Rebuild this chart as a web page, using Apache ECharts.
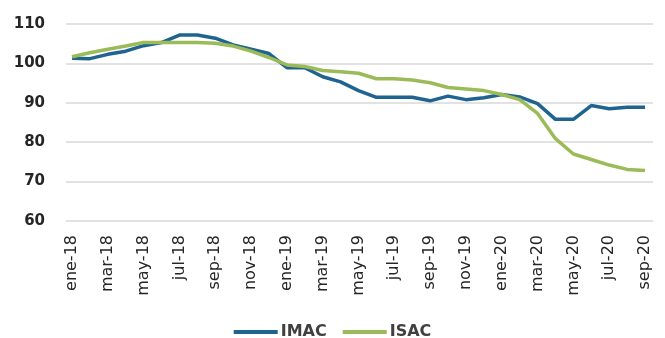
<!DOCTYPE html>
<html>
<head>
<meta charset="utf-8">
<script src="https://cdn.jsdelivr.net/npm/echarts@6/dist/echarts.min.js"></script>
<style>
  html, body { margin: 0; padding: 0; background: #fff; }
  #chart { width: 665px; height: 338px; }
</style>
</head>
<body>
<div id="chart"></div>
<script>
// Monthly index values, January 2018 – September 2020
const months = [
  'ene-18','feb-18','mar-18','abr-18','may-18','jun-18','jul-18','ago-18','sep-18','oct-18','nov-18','dic-18',
  'ene-19','feb-19','mar-19','abr-19','may-19','jun-19','jul-19','ago-19','sep-19','oct-19','nov-19','dic-19',
  'ene-20','feb-20','mar-20','abr-20','may-20','jun-20','jul-20','ago-20','sep-20'
];
const imac = [
  101.3, 101.2, 102.3, 103.1, 104.5, 105.3, 107.2, 107.2, 106.4, 104.7, 103.6, 102.5,
  98.9, 98.9, 96.6, 95.3, 93.1, 91.4, 91.4, 91.4, 90.5, 91.7, 90.8, 91.3,
  92.1, 91.5, 89.8, 85.8, 85.8, 89.3, 88.5, 88.9, 88.9
];
const isac = [
  101.7, 102.7, 103.6, 104.4, 105.3, 105.3, 105.3, 105.3, 105.1, 104.4, 103.1, 101.5,
  99.6, 99.2, 98.2, 97.9, 97.5, 96.1, 96.1, 95.8, 95.1, 93.9, 93.5, 93.1,
  92.1, 90.8, 87.3, 80.9, 77.0, 75.6, 74.2, 73.1, 72.8
];
const yTicks = { min: 60, max: 110, interval: 10 };

const blue = '#1F6390';
const green = '#9BBB59';
const font = '"DejaVu Sans", "Open Sans", sans-serif';

const chart = echarts.init(document.getElementById('chart'));
chart.setOption({
  animation: false,
  legend: {
    top: 324,
    left: 'center',
    padding: 0,
    itemWidth: 44,
    itemHeight: 4,
    itemGap: 16,
    icon: 'rect',
    textStyle: { fontFamily: font, fontSize: 16, fontWeight: 'bold', color: '#404040', padding: [0, 0, 0, -2] },
    data: ['IMAC', 'ISAC']
  },
  grid: [
    { left: 72, right: 20, top: 24, bottom: 117 },
    { left: 66, right: 12, top: 24, bottom: 117 }
  ],
  xAxis: [
    {
      type: 'category',
      gridIndex: 0,
      data: months,
      boundaryGap: false,
      axisLine: { show: false },
      axisTick: { show: false },
      axisLabel: {
        interval: 1,
        rotate: 90,
        margin: 14,
        fontFamily: font,
        fontSize: 16,
        color: '#262626'
      },
      splitLine: { show: false }
    },
    {
      type: 'category',
      gridIndex: 1,
      data: months,
      show: false
    }
  ],
  yAxis: [
    {
      type: 'value',
      gridIndex: 0,
      min: yTicks.min,
      max: yTicks.max,
      interval: yTicks.interval,
      axisLine: { show: false },
      axisTick: { show: false },
      axisLabel: { show: false },
      splitLine: { show: false }
    },
    {
      type: 'value',
      gridIndex: 1,
      min: yTicks.min,
      max: yTicks.max,
      interval: yTicks.interval,
      axisLine: { show: false },
      axisTick: { show: false },
      axisLabel: {
        margin: 21,
        fontFamily: font,
        fontSize: 15,
        fontWeight: 'bold',
        color: '#262626'
      },
      splitLine: { show: true, lineStyle: { color: '#D9D9D9', width: 1.5 } }
    }
  ],
  series: [
    {
      name: 'IMAC',
      type: 'line',
      xAxisIndex: 0,
      yAxisIndex: 0,
      data: imac,
      showSymbol: false,
      color: blue,
      lineStyle: { width: 3.5, color: blue },
      z: 2
    },
    {
      name: 'ISAC',
      type: 'line',
      xAxisIndex: 0,
      yAxisIndex: 0,
      data: isac,
      showSymbol: false,
      color: green,
      lineStyle: { width: 3.5, color: green },
      z: 3
    }
  ]
});
</script>
</body>
</html>
